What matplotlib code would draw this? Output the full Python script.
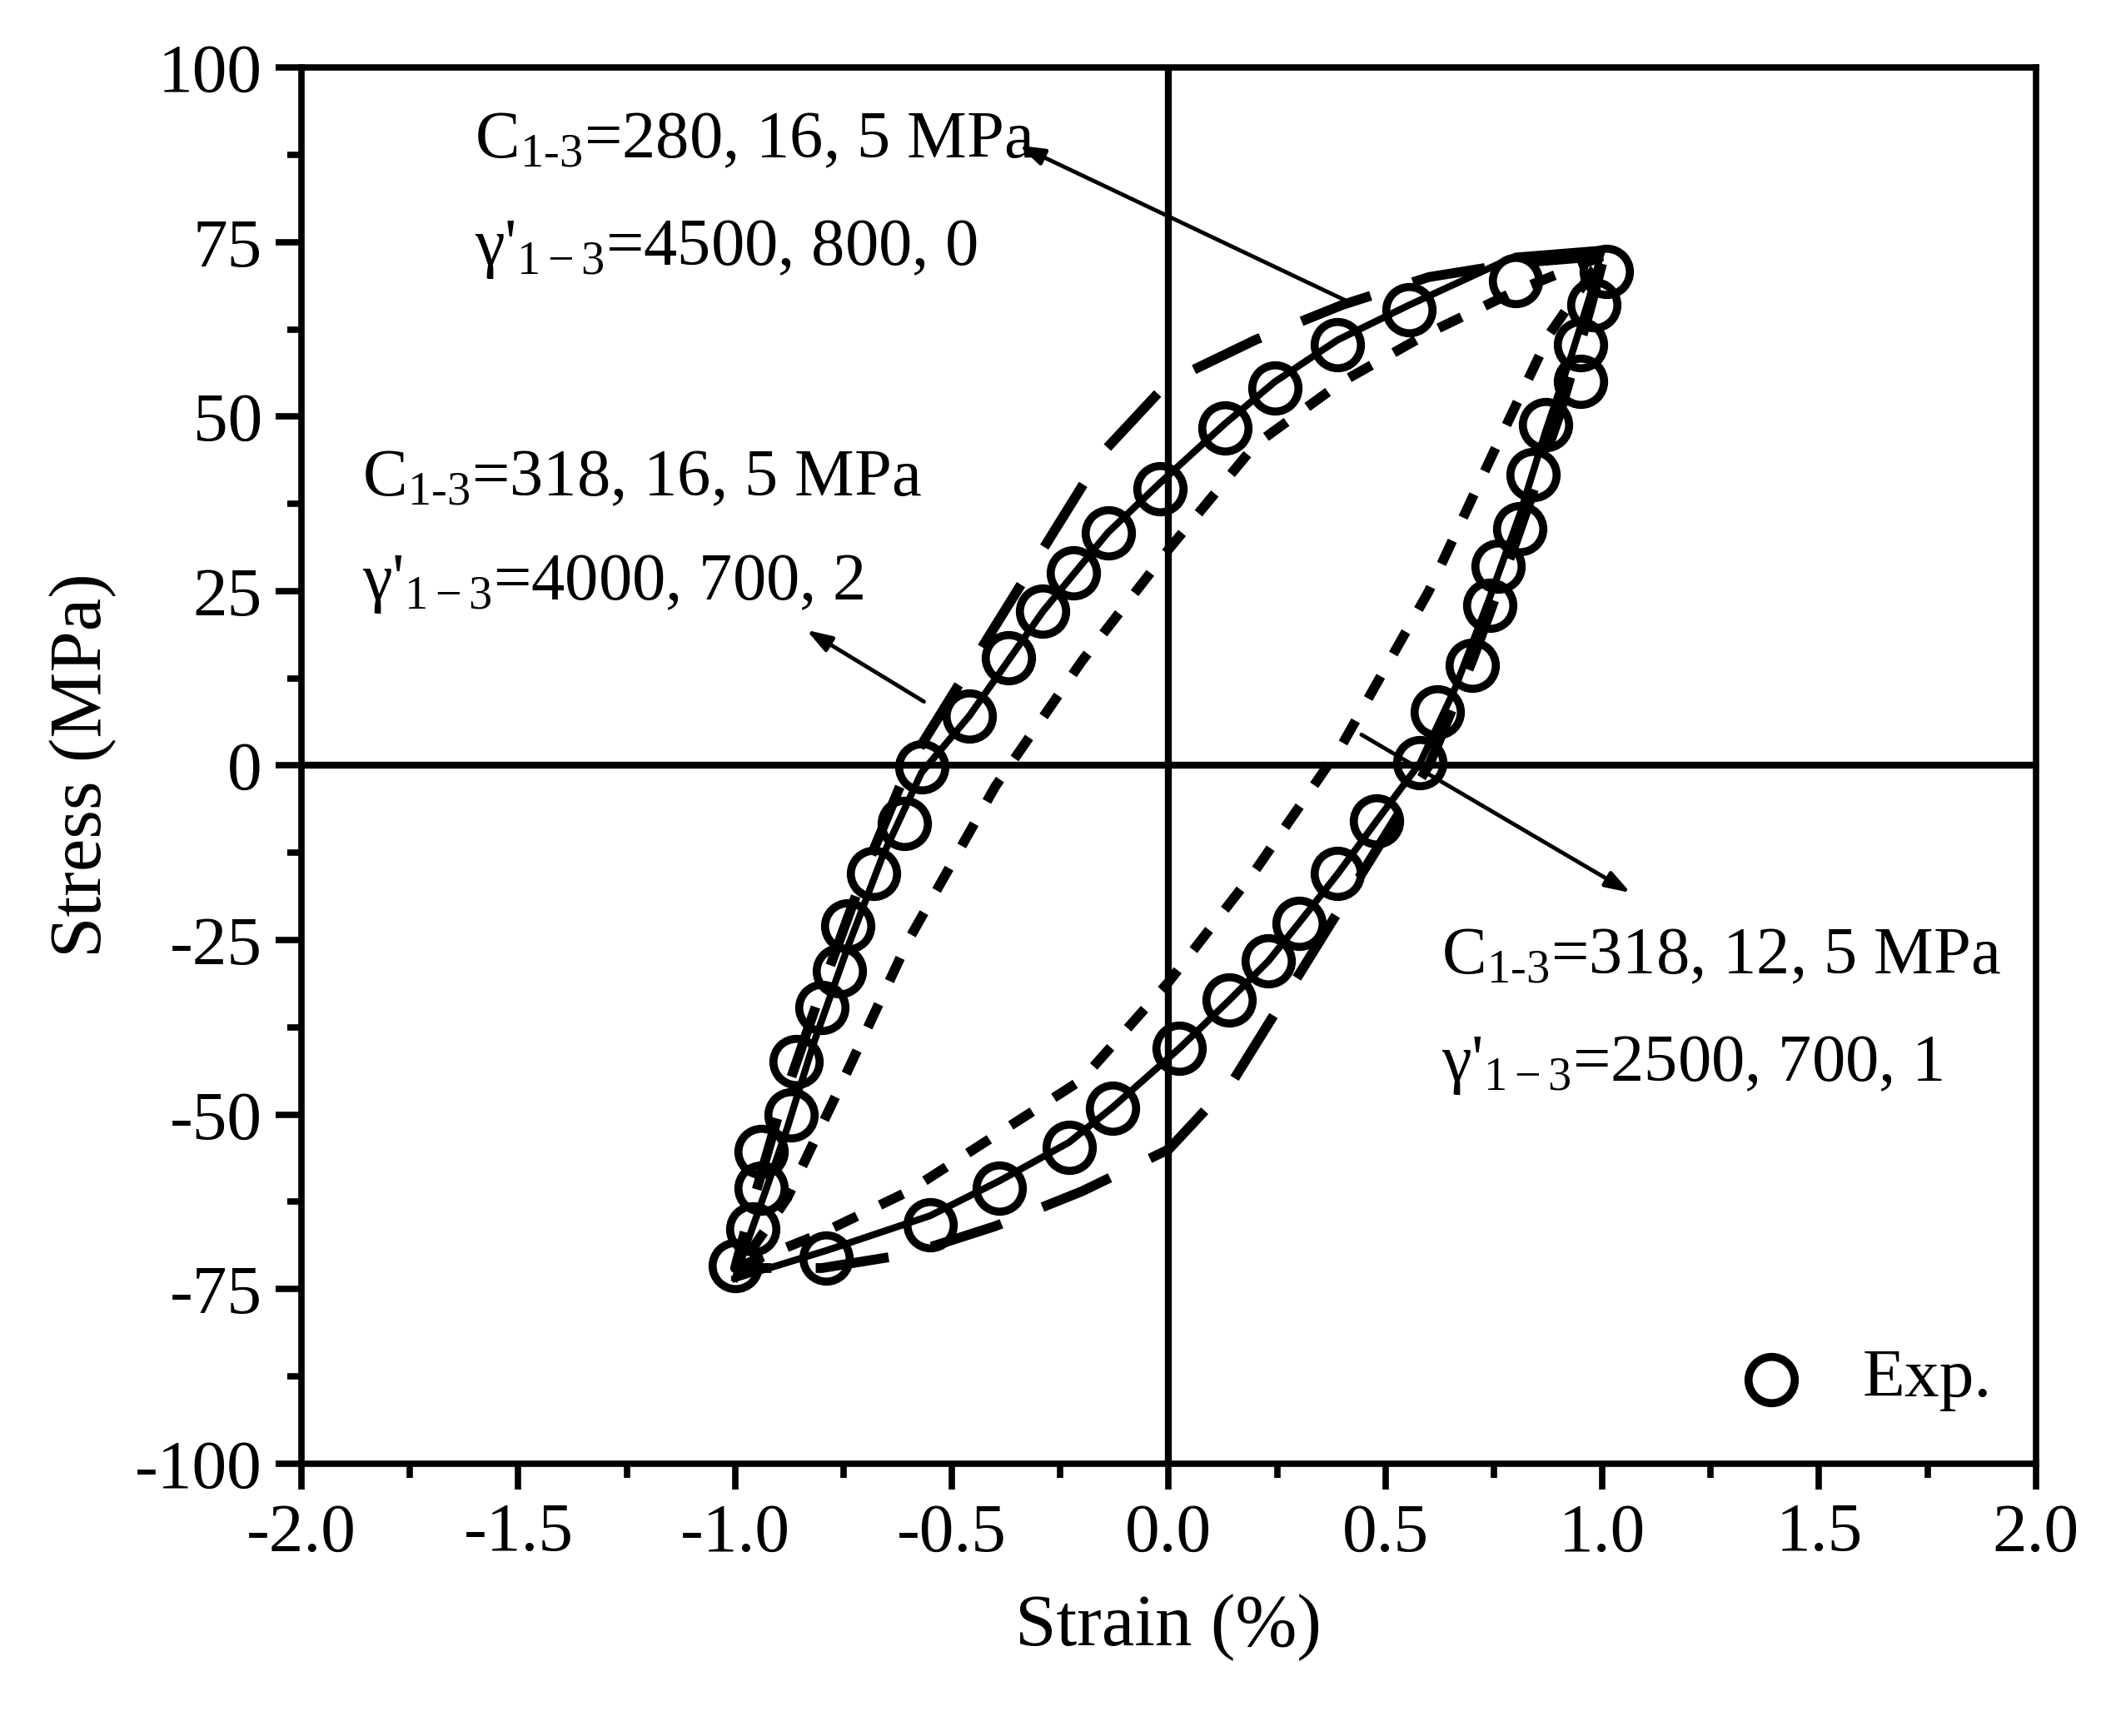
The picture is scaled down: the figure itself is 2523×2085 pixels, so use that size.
import matplotlib
matplotlib.use("Agg")
import matplotlib.pyplot as plt

plt.rcParams['font.family'] = ['Liberation Serif', 'DejaVu Serif']
plt.rcParams['mathtext.fontset'] = 'custom'
plt.rcParams['mathtext.rm'] = 'Liberation Serif'
plt.rcParams['mathtext.it'] = 'Liberation Serif:italic'

exp_load_x = [-1.0,-0.79,-0.55,-0.39,-0.23,-0.13,0.025,0.14,0.23,0.30,0.39,0.48,0.58,0.62,0.70,0.74,0.76,0.81,0.84,0.87,0.95,0.95,0.98,1.01]
exp_load_y = [-71.6,-70.6,-65.8,-60.6,-54.7,-49.1,-40.5,-33.6,-28,-22.6,-15.5,-7.9,0.4,7.7,14.4,23,28.6,34,41.7,48.8,55,60.3,66,70.8]
exp_unl_x = [0.80,0.555,0.39,0.245,0.13,-0.02,-0.14,-0.22,-0.29,-0.37,-0.46,-0.57,-0.61,-0.68,-0.74,-0.76,-0.80,-0.86,-0.87,-0.94,-0.94,-0.96]
exp_unl_y = [69.5,65.3,60.3,54.1,48.4,39.7,33.4,27.6,22.1,15.4,7.1,-0.2,-8.3,-15.4,-23,-29.4,-34.7,-42.4,-50.1,-55.3,-60.6,-66.4]

solid_x = [-1.0,-0.79,-0.55,-0.39,-0.23,-0.13,0.025,0.14,0.23,0.30,0.39,0.48,0.58,0.66,0.74,0.81,0.87,0.93,0.97,1.0,0.80,0.555,0.39,0.245,0.13,-0.02,-0.14,-0.29,-0.46,-0.57,-0.66,-0.74,-0.82,-0.88,-0.93,-0.97,-1.0,-1.0]
solid_y = [-73.5,-69.5,-64.5,-59.5,-54.0,-49.0,-40.5,-33.6,-28,-22.6,-15.5,-7.9,0.4,11,24,36,48,59,67,74,73,66,61,55,49,40.5,33.4,22.1,7.1,-1.0,-13,-26,-40,-52,-61,-68,-73.5,-73.5]

sdash_x = [1.0,0.8,0.6,0.4,0.2,0.0,-0.2,-0.4,-0.6,-0.75,-0.88,-0.98,-1.0,-0.8,-0.6,-0.4,-0.2,0.0,0.2,0.4,0.6,0.75,0.88,0.98,1.0]
sdash_y = [73,68,62,55,46,31,15,-3,-25,-45,-62,-71,-72,-67,-61,-53,-45,-31,-15,3,25,45,62,71,72]

ldash_x = [1.0,0.8,0.6,0.4,0.2,0.0,-0.15,-0.3,-0.45,-0.6,-0.7,-0.8,-0.9,-0.97,-1.0,-0.8,-0.6,-0.4,-0.2,0.0,0.15,0.3,0.45,0.6,0.7,0.8,0.9,0.97,1.0]
ldash_y = [73,72,70,66,61,55,45,30,15,0,-15,-32,-50,-65,-72,-72,-70,-66,-61,-55,-45,-30,-15,0,15,32,50,65,72]

xticks = [-2.0,-1.5,-1.0,-0.5,0.0,0.5,1.0,1.5,2.0]
yticks = [-100,-75,-50,-25,0,25,50,75,100]

fig = plt.figure(figsize=(25.23,20.85), dpi=100)
ax = fig.add_axes([0.1435,0.157,0.8255,0.804])
ax.axhline(0,color='black',lw=6,zorder=1)
ax.axvline(0,color='black',lw=6,zorder=1)
ax.plot(ldash_x,ldash_y,color='black',lw=8.5,dashes=(7.5,4.5),zorder=2)
ax.plot(sdash_x,sdash_y,color='black',lw=8.5,dashes=(2.6,2.6),zorder=2)
ax.plot(solid_x,solid_y,color='black',lw=6,zorder=3)
ax.plot(exp_load_x+exp_unl_x,exp_load_y+exp_unl_y,'o',ms=40,mfc='none',mec='black',mew=7,ls='none',zorder=4)
ax.plot([1.39],[-88],'o',ms=40,mfc='none',mec='black',mew=7)
ax.text(1.6,-88,'Exp.',fontsize=60,va='center')

ax.set_xlim(-2,2); ax.set_ylim(-100,100)
ax.set_xticks(xticks); ax.set_yticks(yticks)
ax.set_xticklabels([f'{v:.1f}' for v in xticks])
ax.set_yticklabels([str(v) for v in yticks])
ax.set_xticks([-1.75,-1.25,-0.75,-0.25,0.25,0.75,1.25,1.75],minor=True)
ax.set_yticks([y+12.5 for y in yticks[:-1]],minor=True)
for s in ax.spines.values(): s.set_linewidth(5.5)
ax.tick_params(which='major',direction='out',length=22,width=5.5,labelsize=60,pad=12)
ax.tick_params(which='minor',direction='out',length=12,width=5.5)
ax.set_xlabel('Strain (%)',fontsize=64,labelpad=24)
ax.set_ylabel('Stress (MPa)',fontsize=64,labelpad=16)

fs=58
ax.text(-1.6,89.5,r'C$_{\rm 1\text{-}3}$=280, 16, 5 MPa',fontsize=fs,va='center')
ax.text(-1.6,74,r"γ$'_{\rm 1-3}$=4500, 800, 0",fontsize=fs,va='center')
ax.text(-1.86,41,r'C$_{\rm 1\text{-}3}$=318, 16, 5 MPa',fontsize=fs,va='center')
ax.text(-1.86,26,r"γ$'_{\rm 1-3}$=4000, 700, 2",fontsize=fs,va='center')
ax.text(0.63,-27.5,r'C$_{\rm 1\text{-}3}$=318, 12, 5 MPa',fontsize=fs,va='center')
ax.text(0.63,-43,r"γ$'_{\rm 1-3}$=2500, 700, 1",fontsize=fs,va='center')
ap=dict(arrowstyle='-|>,head_length=1.8,head_width=0.6',color='black',lw=3.5)
ax.annotate('',xy=(-0.35,89),xytext=(0.43,66),arrowprops=ap)
ax.annotate('',xy=(-0.84,19.6),xytext=(-0.56,9),arrowprops=ap)
ax.annotate('',xy=(1.07,-18.4),xytext=(0.44,4.6),arrowprops=ap)
fig.savefig('out.png',dpi=100)
